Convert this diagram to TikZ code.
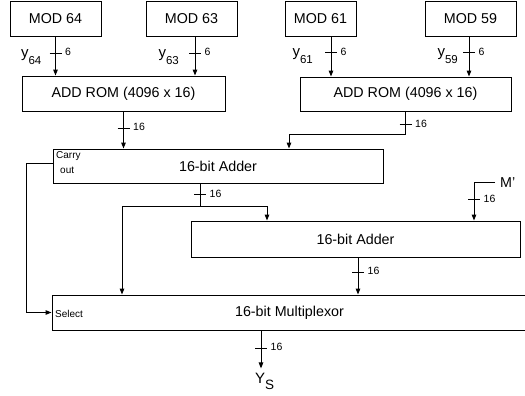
\documentclass[tikz,border=0pt]{standalone}
\usepackage{fontspec}
\setmainfont{Liberation Sans}
\usetikzlibrary{arrows.meta,calc}
\newcommand\bustick[2]{%
  \draw[tk] ([xshift=-6pt]#1) -- ([xshift=6pt]#1);
  \node[lbl, anchor=west] at ([xshift=9.5pt,yshift=1pt]#1) {#2};}
\begin{document}
\begin{tikzpicture}[x=1pt,y=-1pt,
  blk/.style={draw, line width=0.9pt, inner sep=0pt, font=\fontsize{14.3}{16}\selectfont},
  wire/.style={line width=1pt},
  arr/.style={wire, -{Triangle[length=6pt,width=4.5pt]}},
  tk/.style={line width=0.9pt},
  lbl/.style={font=\fontsize{10.5}{12}\selectfont, inner sep=0pt},
  sm/.style={font=\fontsize{10}{11}\selectfont, inner sep=0pt},
  sig/.style={font=\fontsize{15}{17}\selectfont, inner sep=0pt}]
\useasboundingbox (0,0) rectangle (525,396);
\clip (0,0) rectangle (525,396);

% blocks
\node[blk, minimum width=91pt, minimum height=35pt] (m64) at (55.5,18.5) {MOD 64};
\node[blk, minimum width=91pt, minimum height=35pt] (m63) at (191.5,18.5) {MOD 63};
\node[blk, minimum width=71pt, minimum height=35pt] (m61) at (320.5,18.5) {MOD 61};
\node[blk, minimum width=91pt, minimum height=35pt] (m59) at (470.5,18.5) {MOD 59};
\node[blk, minimum width=203pt, minimum height=35pt] (rom1) at (123.5,93.5) {ADD ROM (4096 x 16)};
\node[blk, minimum width=211pt, minimum height=34pt] (rom2) at (405.5,94) {ADD ROM (4096 x 16)};
\node[blk, minimum width=330pt, minimum height=34pt] (add1) at (218,166) {16-bit Adder};
\node[blk, minimum width=329pt, minimum height=36pt] (add2) at (355.5,239) {16-bit Adder};
\node[blk, minimum width=475pt, minimum height=35pt] (mux) at (289.5,312.5) {16-bit Multiplexor};

\node[sm, anchor=west] (carry) at (56,156.5) {Carry};
\node[sm, anchor=west] (cout) at (60,170.5) {out};
\node[sm, anchor=west] (sel) at (55,314) {Select};

% helper x positions
\coordinate (a1) at (m64.south);
\coordinate (a2) at ([xshift=3.5pt]m63.south);
\coordinate (a3) at ([xshift=10.5pt]m61.south);
\coordinate (a4) at ([xshift=-1.5pt]m59.south);

% MOD -> ROM
\draw[arr] (a1) -- coordinate[pos=0.43] (t1) (a1 |- rom1.north);
\draw[arr] (a2) -- coordinate[pos=0.43] (t2) (a2 |- rom1.north);
\draw[arr] (a3) -- coordinate[pos=0.41] (t3) (a3 |- rom2.north);
\draw[arr] (a4) -- coordinate[pos=0.41] (t4) (a4 |- rom2.north);
\bustick{t1}{6}
\bustick{t2}{6}
\bustick{t3}{6}
\bustick{t4}{6}
\node[sig, anchor=base east] (y64) at ([xshift=-14pt,yshift=-4pt]t1) {y\raisebox{-7pt}{\fontsize{11.5}{12}\selectfont 64}};
\node[sig, anchor=base east] (y63) at ([xshift=-16pt,yshift=-4pt]t2) {y\raisebox{-7pt}{\fontsize{11.5}{12}\selectfont 63}};
\node[sig, anchor=base east] (y61) at ([xshift=-18pt,yshift=-4pt]t3) {y\raisebox{-7pt}{\fontsize{11.5}{12}\selectfont 61}};
\node[sig, anchor=base east] (y59) at ([xshift=-11pt,yshift=-4pt]t4) {y\raisebox{-7pt}{\fontsize{11.5}{12}\selectfont 59}};

% ROM -> Adder 1
\draw[arr] (rom1.south) -- coordinate[pos=0.45] (t5) (rom1.south |- add1.north);
\bustick{t5}{16}
\coordinate (b2) at ([xshift=71pt]add1.north);
\draw[arr] (rom2.south) -- coordinate[pos=0.57] (t6) ++(0,23) -| (b2);
\bustick{t6}{16}

% carry out -> select
\draw[arr] ([yshift=3pt]add1.west) -- ++(-26,0) |- (mux.west);

% adder 1 output
\coordinate (c1) at ([xshift=-18pt]add1.south);
\coordinate (j) at ([yshift=-23pt]c1);
\draw[wire] (c1) -- coordinate[pos=0.48] (t7) (j);
\bustick{t7}{16}
\coordinate (x122) at (122,0);
\coordinate (x267) at (267,0);
\draw[arr] (j) -| (mux.north -| x122);
\draw[arr] (j) -| (add2.north -| x267);

% M'
\coordinate (mq) at ([xshift=118.5pt]add2.north);
\coordinate (mp) at ([xshift=21pt,yshift=38pt]mq);
\draw[arr] (mp) -| coordinate[pos=0.5] (mc) (mq);
\path (mc) -- coordinate[pos=0.45] (t8) (mq);
\bustick{t8}{16}
\node[sig, anchor=west, font=\fontsize{14.3}{16}\selectfont] (mlab) at ([xshift=5pt]mp) {M'};

% adder 2 -> mux
\coordinate (d1) at ([xshift=2.5pt]add2.south);
\draw[arr] (d1) -- coordinate[pos=0.4] (t9) (d1 |- mux.north);
\bustick{t9}{16}

% mux output
\coordinate (e1) at (261,0);
\coordinate (yout) at ([yshift=-38pt]mux.south -| e1);
\draw[arr] (mux.south -| e1) -- coordinate[pos=0.47] (t10) (yout);
\bustick{t10}{16}
\node[sig, anchor=base west] (ys) at (255,383) {Y\raisebox{-6pt}{\fontsize{13.5}{14}\selectfont S}};
\end{tikzpicture}
\end{document}
